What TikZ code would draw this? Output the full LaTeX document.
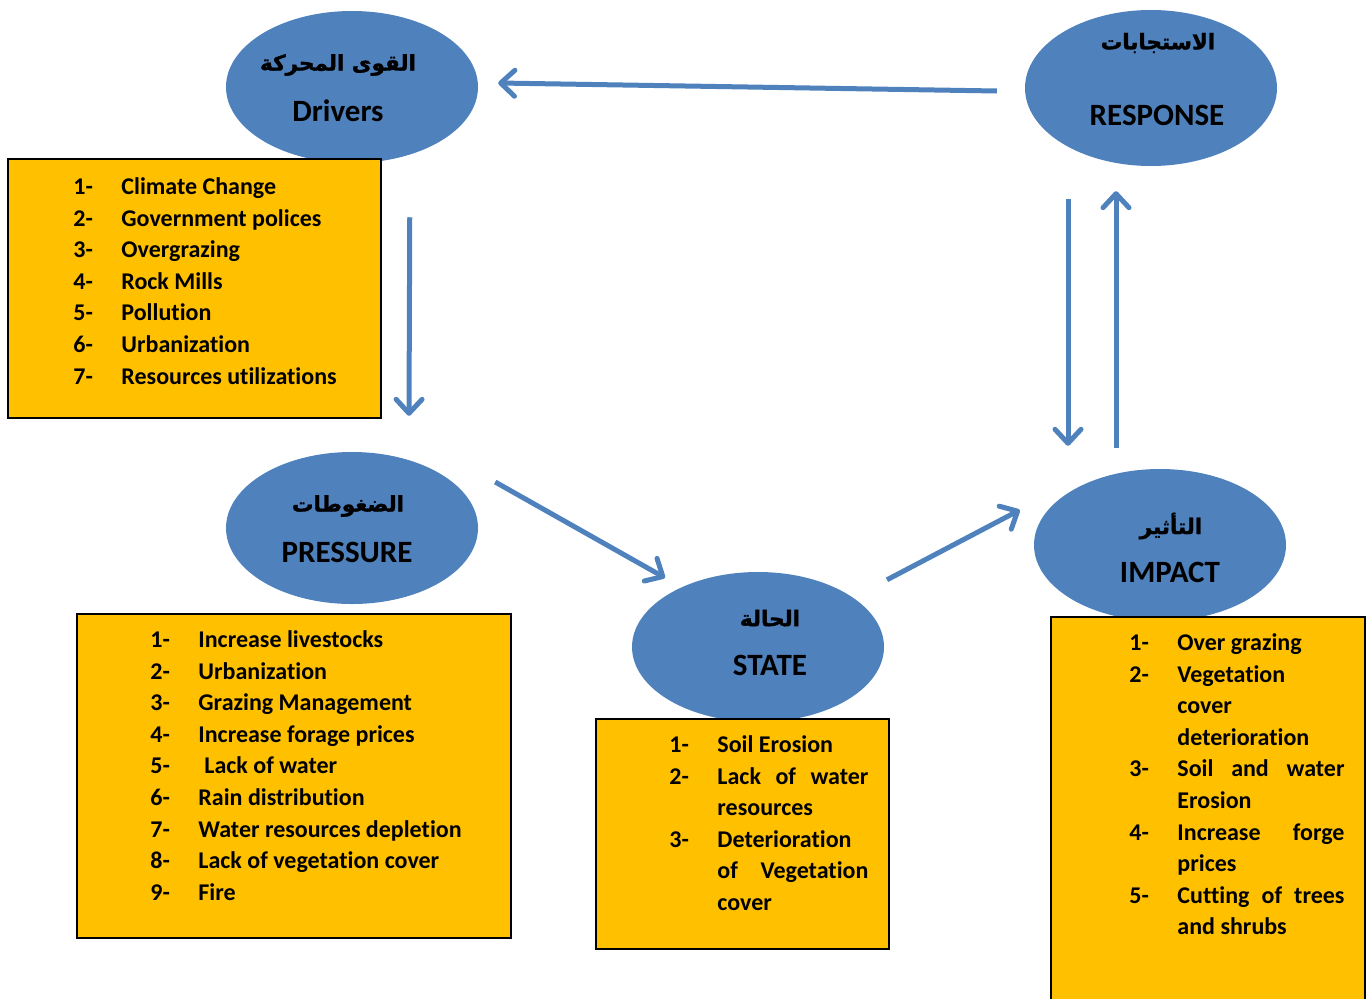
\documentclass[tikz,border=0pt]{standalone}
\usepackage{fontspec}
\setmainfont{Carlito}[Ligatures=NoCommon]
\newfontfamily\arabicfont[Script=Arabic, BoldFeatures={FakeBold=1.5}]{DejaVu Sans}
\TeXXeTstate=1
\usepackage{tikz}
\usetikzlibrary{arrows.meta, positioning, shapes.geometric}

\definecolor{dpsirblue}{HTML}{4F81BD}
\definecolor{dpsiryellow}{HTML}{FFC000}

\tikzset{
	phase/.style={ellipse, fill=dpsirblue, minimum width=252pt, minimum height=152pt, inner sep=0pt},
	entitle/.style={font=\fontsize{31}{36}\selectfont\bfseries, inner sep=0pt},
	artitle/.style={font=\arabicfont\fontsize{21.5}{26}\selectfont\bfseries, inner sep=0pt},
	listbox/.style={draw=black, line width=1.5pt, fill=dpsiryellow, inner sep=0pt},
	listtext/.style={anchor=north west, inner sep=0pt, font=\fontsize{24}{31.6}\selectfont\bfseries},
	flow/.style={draw=dpsirblue, line width=5pt, -{Straight Barb[length=14pt, width=26pt, round]}}
}
\newcommand\itemlist[2]{\begin{tabular}{@{}p{48pt}@{}p{#1}@{}}#2\end{tabular}}

\begin{document}
\begin{tikzpicture}[x=1pt, y=-1pt]
	\useasboundingbox (0,0) rectangle (1367,998);
	\hyphenpenalty=10000

	% DPSIR phases
	\node[phase] (drv) at (352,87) {};
	\node[phase, minimum height=156pt] (resp) at (1151,88) {};
	\node[phase] (pres) at (352,528) {};
	\node[phase, minimum height=150pt] (state) at (758,647) {};
	\node[phase] (imp) at (1160,545) {};

	\node[artitle] (drv-ar) at ([shift={(-14,-22)}]drv.center) {\beginR القوى المحركة\endR};
	\node[entitle] (drv-en) at ([shift={(-14,24)}]drv.center) {Drivers};
	\node[artitle] (resp-ar) at ([shift={(7,-45)}]resp.center) {\beginR الاستجابات\endR};
	\node[entitle] (resp-en) at ([shift={(6,27)}]resp.center) {RESPONSE};
	\node[artitle] (pres-ar) at ([shift={(-4,-22)}]pres.center) {\beginR الضغوطات\endR};
	\node[entitle] (pres-en) at ([shift={(-5,24)}]pres.center) {PRESSURE};
	\node[artitle] (state-ar) at ([shift={(12,-29)}]state.center) {\beginR الحالة\endR};
	\node[entitle] (state-en) at ([shift={(12,18)}]state.center) {STATE};
	\node[artitle] (imp-ar) at ([shift={(11,-19)}]imp.center) {\beginR التأثير\endR};
	\node[entitle] (imp-en) at ([shift={(10,27)}]imp.center) {IMPACT};

	% lists
	\node[listbox, minimum width=373pt, minimum height=259pt] (drvbox) at (194.5,288.5) {};
	\node[listbox, minimum width=434pt, minimum height=324pt] (presbox) at (294,776) {};
	\node[listbox, minimum width=293pt, minimum height=230pt] (statebox) at (742.5,834) {};
	\node[listbox, minimum width=314pt, minimum height=390pt] (impbox) at (1208,812) {};

	\node[listtext] (drvlist) at ([shift={(66,14)}]drvbox.north west) {\itemlist{250pt}{
		1- & Climate Change\\
		2- & Government polices\\
		3- & Overgrazing\\
		4- & Rock Mills\\
		5- & Pollution\\
		6- & Urbanization\\
		7- & Resources utilizations}};
	\node[listtext] (preslist) at ([shift={(74,12)}]presbox.north west) {\itemlist{300pt}{
		1- & Increase livestocks\\
		2- & Urbanization\\
		3- & Grazing Management\\
		4- & Increase forage prices\\
		5- & \hspace*{6pt}Lack of water\\
		6- & Rain distribution\\
		7- & Water resources depletion\\
		8- & Lack of vegetation cover\\
		9- & Fire}};
	\node[listtext] (statelist) at ([shift={(74,12)}]statebox.north west) {\itemlist{151pt}{
		1- & Soil Erosion\\
		2- & Lack of water resources\\
		3- & Deterioration of Vegetation cover}};
	\node[listtext] (implist) at ([shift={(79,12)}]impbox.north west) {\itemlist{167pt}{
		1- & Over grazing\\
		2- & Vegetation\newline cover\newline deterioration\\
		3- & Soil and water Erosion\\
		4- & Increase forge prices\\
		5- & Cutting of trees and shrubs}};

	% links
	\draw[flow] ([shift={(-28,3)}]resp.west) -- ([shift={(20,-4)}]drv.east);
	\draw[flow] ([shift={(28,59)}]drvbox.north east) -- ([shift={(57,-36)}]pres.north);
	\draw[flow] ([shift={(17,-46)}]pres.east) -- ([shift={(-93,6)}]state.north);
	\draw[flow] ([shift={(129,8)}]state.north) -- ([shift={(-14,-35)}]imp.west);
	\draw[flow] ([shift={(-83,33)}]resp.south) -- ([shift={(-92,-23)}]imp.north);
	\draw[flow] ([shift={(-44,-21)}]imp.north) -- ([shift={(-35,25)}]resp.south);
\end{tikzpicture}
\end{document}
